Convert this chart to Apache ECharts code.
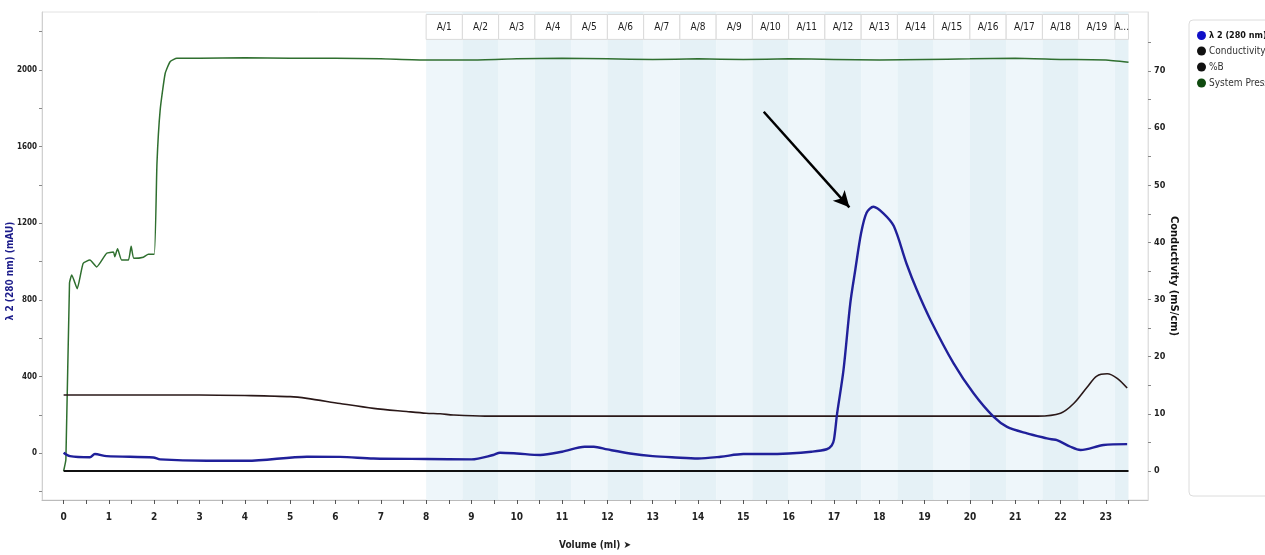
<!DOCTYPE html>
<html>
<head>
<meta charset="utf-8">
<script src="https://cdn.jsdelivr.net/npm/echarts@6/dist/echarts.min.js"></script>
<style>
  html, body { margin: 0; padding: 0; background: #fff; }
  #main { width: 1265px; height: 555px; }
</style>
</head>
<body>
<div id="main"></div>
<script>
// UV 280 nm trace (mAU), left axis
var uvVol = [0, 0.14, 0.58, 0.69, 0.95, 1.98, 2.13, 3.16, 4.04, 5.37, 6.1, 6.84, 8.0, 9.0, 9.48, 9.63, 10.0, 10.52, 11.0, 11.5, 11.7, 12.0, 12.5, 13.0, 13.5, 14.0, 14.5, 15.0, 15.5, 16.0, 16.5, 16.84, 16.95, 17.0, 17.07, 17.21, 17.36, 17.47, 17.6, 17.72, 17.87, 18.09, 18.32, 18.6, 18.83, 19.13, 19.64, 20.08, 20.52, 20.82, 21.26, 21.7, 21.8, 21.92, 22.22, 22.44, 22.95, 23.47];
var uvVal = [2, -16, -22, -5, -16, -23, -33, -40, -40, -19, -20, -28, -31, -33, -10, 2, -2, -10, 7, 33, 33, 19, -2, -16, -23, -28, -19, -5, -5, -2, 7, 20, 40, 70, 207, 433, 782, 956, 1150, 1255, 1286, 1252, 1185, 990, 851, 695, 468, 312, 190, 137, 103, 77, 72, 68, 33, 16, 42, 47];

// Conductivity (mS/cm), right axis
var condVol = [0, 1, 2, 3, 4, 5, 5.37, 6.1, 6.84, 7.57, 8.0, 8.31, 8.6, 9.3, 10, 15, 21.5, 22.0, 22.29, 22.59, 22.8, 23.03, 23.25, 23.47];
var condVal = [13.3, 13.3, 13.3, 13.3, 13.2, 13.0, 12.7, 11.8, 10.95, 10.4, 10.1, 10.0, 9.8, 9.6, 9.6, 9.6, 9.6, 10.1, 11.8, 14.7, 16.6, 17.0, 16.2, 14.5];

// %B
var bVol = [0, 23.5];
var bVal = [0, 0];

// System pressure, drawn on the right scale
var presVol = [0, 0.05, 0.13, 0.18, 0.3, 0.43, 0.58, 0.73, 0.95, 1.1, 1.13, 1.19, 1.28, 1.43, 1.49, 1.55, 1.76, 1.87, 2.0, 2.06, 2.13, 2.24, 2.35, 2.5, 3, 4, 5, 6, 7, 8, 9, 10, 11, 12, 13, 14, 15, 16, 17, 18, 19, 20, 21, 22, 23, 23.5];
var presVal = [0, 2, 32.9, 34.3, 31.9, 36.3, 36.9, 35.7, 38.1, 38.3, 37.5, 38.9, 36.9, 36.9, 39.3, 37.2, 37.4, 37.9, 37.9, 53.8, 63.1, 69.5, 71.6, 72.2, 72.2, 72.3, 72.2, 72.2, 72.1, 71.9, 71.9, 72.1, 72.2, 72.1, 72.0, 72.1, 72.0, 72.1, 72.0, 71.9, 72.0, 72.1, 72.2, 72.0, 71.9, 71.5];

// fractions
var fracNames = ['A/1', 'A/2', 'A/3', 'A/4', 'A/5', 'A/6', 'A/7', 'A/8', 'A/9', 'A/10', 'A/11', 'A/12', 'A/13', 'A/14', 'A/15', 'A/16', 'A/17', 'A/18', 'A/19', 'A...'];
var fracStart = [8.0, 8.8, 9.6, 10.4, 11.2, 12.0, 12.8, 13.6, 14.4, 15.2, 16.0, 16.8, 17.6, 18.4, 19.2, 20.0, 20.8, 21.6, 22.4, 23.2];
var fracEnd = [8.8, 9.6, 10.4, 11.2, 12.0, 12.8, 13.6, 14.4, 15.2, 16.0, 16.8, 17.6, 18.4, 19.2, 20.0, 20.8, 21.6, 22.4, 23.2, 23.5];

// tick labels
var xTicks = [0, 1, 2, 3, 4, 5, 6, 7, 8, 9, 10, 11, 12, 13, 14, 15, 16, 17, 18, 19, 20, 21, 22, 23];
var leftTicks = [0, 400, 800, 1200, 1600, 2000];
var rightTicks = [0, 10, 20, 30, 40, 50, 60, 70];

// arrow pointing at the peak (volume, mAU)
var arrowFrom = [15.45, 1782];
var arrowTo = [17.34, 1283];

function pairs(xs, ys) {
  return xs.map(function (x, i) { return [x, ys[i]]; });
}
function halfSteps(lo, hi, step) {
  var out = [];
  for (var v = lo; v <= hi + 1e-9; v += step) out.push(+v.toFixed(2));
  return out;
}
function plain(v) { return String(v); }

var FONT = '"DejaVu Sans Condensed", "Liberation Sans Narrow", sans-serif';
var headerLow = 2160, headerHigh = 2290;

var bandData = fracStart.map(function (s, i) {
  return [{ xAxis: s, itemStyle: { color: i % 2 ? '#e5f1f6' : '#eef6fa' } }, { xAxis: fracEnd[i] }];
});
var headerData = fracStart.map(function (s, i) {
  return [{ name: fracNames[i], xAxis: s, yAxis: headerLow }, { xAxis: fracEnd[i], yAxis: headerHigh }];
});

var chart = echarts.init(document.getElementById('main'));
chart.setOption({
  animation: false,
  textStyle: { fontFamily: FONT },
  grid: { left: 42, right: 117, top: 12, bottom: 55, containLabel: false, outerBoundsMode: 'none', show: true, borderColor: '#e2e2e2', borderWidth: 1 },
  legend: {
    orient: 'vertical',
    left: 1192,
    top: 26,
    itemWidth: 9,
    itemHeight: 9,
    itemGap: 6,
    icon: 'circle',
    textStyle: { fontSize: 10, color: '#333', fontFamily: FONT, padding: [0, 0, 0, -2] },
    data: [
      { name: 'λ 2 (280 nm)', textStyle: { fontWeight: 'bold', fontSize: 9, color: '#111' } },
      { name: 'Conductivity' },
      { name: '%B' },
      { name: 'System Pressure' }
    ]
  },
  graphic: [{
    type: 'rect',
    shape: { x: 1189, y: 20, width: 100, height: 476, r: 4 },
    style: { fill: 'none', stroke: '#dcdcdc', lineWidth: 1 },
    z: -1
  }],
  xAxis: {
    type: 'value',
    min: -0.477,
    max: 23.93,
    name: 'Volume (ml) ➤',
    nameLocation: 'middle',
    nameGap: 40,
    nameMoveOverlap: false,
    nameTextStyle: { fontSize: 10, fontWeight: 'bold', color: '#222', fontFamily: FONT },
    splitLine: { show: false },
    axisLine: { onZero: false, lineStyle: { color: '#bbb' } },
    axisTick: { show: true, length: 4, lineStyle: { color: '#555' }, customValues: halfSteps(0, 23.5, 0.5) },
    axisLabel: { customValues: xTicks, formatter: plain, fontSize: 10, fontWeight: 'bold', color: '#222', margin: 12, fontFamily: FONT }
  },
  yAxis: [{
    type: 'value',
    min: -245,
    max: 2303,
    position: 'left',
    name: 'λ 2 (280 nm) (mAU)',
    nameLocation: 'middle',
    nameRotate: 90,
    nameGap: 27,
    nameMoveOverlap: false,
    nameTextStyle: { fontSize: 10, fontWeight: 'bold', color: '#1b1b8a', fontFamily: FONT, padding: [0, 0, 0, -30] },
    splitLine: { show: false },
    axisLine: { show: true, onZero: false, lineStyle: { color: '#d0d0d0' } },
    axisTick: { show: true, length: 3, lineStyle: { color: '#888' }, customValues: [-200, 0, 200, 400, 600, 800, 1000, 1200, 1400, 1600, 1800, 2000, 2200] },
    axisLabel: { customValues: leftTicks, formatter: plain, fontSize: 8, fontWeight: 'bold', color: '#222', margin: 5, fontFamily: FONT }
  }, {
    type: 'value',
    min: -5.08,
    max: 80.3,
    position: 'right',
    name: 'Conductivity (mS/cm)',
    nameLocation: 'middle',
    nameRotate: -90,
    nameGap: 20,
    nameMoveOverlap: false,
    nameTextStyle: { fontSize: 11, fontWeight: 'bold', color: '#111', fontFamily: FONT, padding: [0, 0, 0, 40] },
    splitLine: { show: false },
    axisLine: { show: true, onZero: false, lineStyle: { color: '#e0e0e0' } },
    axisTick: { show: true, length: 3, lineStyle: { color: '#888' }, customValues: [0, 5, 10, 15, 20, 25, 30, 35, 40, 45, 50, 55, 60, 65, 70, 75] },
    axisLabel: { customValues: rightTicks, formatter: plain, fontSize: 9, fontWeight: 'bold', color: '#222', margin: 6, fontFamily: FONT }
  }],
  series: [
    {
      name: 'fractions',
      type: 'line',
      yAxisIndex: 0,
      data: [],
      silent: true,
      z: 0,
      markArea: { silent: true, data: bandData }
    },
    {
      name: 'fraction-header',
      type: 'line',
      yAxisIndex: 0,
      data: [],
      silent: true,
      z: 1,
      markArea: {
        silent: true,
        itemStyle: { color: '#ffffff', borderColor: '#dadada', borderWidth: 1 },
        label: { show: true, position: 'inside', fontSize: 10, color: '#222', fontFamily: FONT },
        data: headerData
      }
    },
    {
      name: 'System Pressure',
      type: 'line',
      yAxisIndex: 1,
      data: pairs(presVol, presVal),
      showSymbol: false,
      smooth: 0.15,
      color: '#0f4a0f',
      lineStyle: { color: '#2f6f2f', width: 1.5 },
      z: 3
    },
    {
      name: '%B',
      type: 'line',
      yAxisIndex: 1,
      data: pairs(bVol, bVal),
      showSymbol: false,
      color: '#111',
      lineStyle: { color: '#111', width: 2 },
      z: 3
    },
    {
      name: 'Conductivity',
      type: 'line',
      yAxisIndex: 1,
      data: pairs(condVol, condVal),
      showSymbol: false,
      smooth: 0.3,
      color: '#111',
      lineStyle: { color: '#2a1818', width: 1.6 },
      z: 4
    },
    {
      name: 'λ 2 (280 nm)',
      type: 'line',
      yAxisIndex: 0,
      data: pairs(uvVol, uvVal),
      showSymbol: false,
      smooth: 0.3,
      color: '#1010c8',
      lineStyle: { color: '#20209a', width: 2.4 },
      z: 5,
      markLine: {
        silent: true,
        symbol: ['none', 'arrow'],
        symbolSize: [12, 16],
        label: { show: false },
        lineStyle: { color: '#000', width: 2.5, type: 'solid' },
        data: [[{ coord: arrowFrom }, { coord: arrowTo }]]
      }
    }
  ]
});
</script>
</body>
</html>
